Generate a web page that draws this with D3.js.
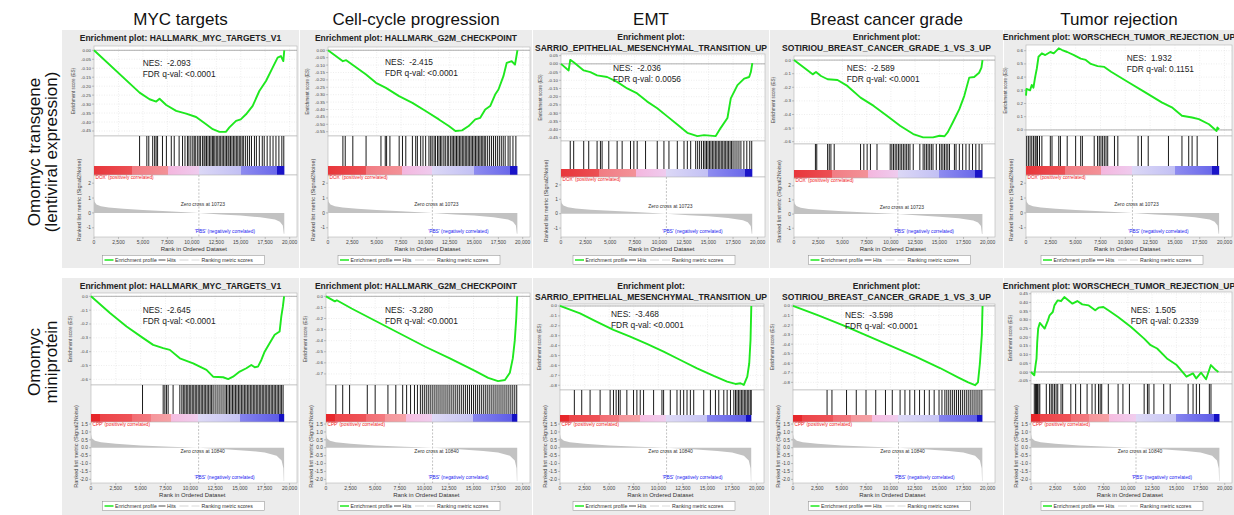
<!DOCTYPE html>
<html>
<head>
<meta charset="utf-8">
<script src="https://cdn.jsdelivr.net/npm/d3@7/dist/d3.min.js"></script>
<style>
html,body{margin:0;padding:0;background:#fff;}
svg{display:block;}
text{font-family:"Liberation Sans",Arial,Helvetica,sans-serif;white-space:pre;}
</style>
</head>
<body>
<svg id="chart" width="1234" height="515"></svg>
<script>
// ===================== DATA =====================
const columnTitles = ["MYC targets","Cell-cycle progression","EMT","Breast cancer grade","Tumor rejection"];
const rowTitles = [["Omomyc transgene","(lentiviral expression)"],["Omomyc","miniprotein"]];
const geneSets = ["HALLMARK_MYC_TARGETS_V1","HALLMARK_G2M_CHECKPOINT","SARRIO_EPITHELIAL_MESENCHYMAL_TRANSITION_UP","SOTIRIOU_BREAST_CANCER_GRADE_1_VS_3_UP","WORSCHECH_TUMOR_REJECTION_UP"];
const nesTop = ["-2.093","-2.415","-2.036","-2.589","1.932"];
const fdrTop = ["<0.0001","<0.0001","0.0056","<0.0001","0.1151"];
const nesBottom = ["-2.645","-3.280","-3.468","-3.598","1.505"];
const fdrBottom = ["<0.0001","<0.0001","<0.0001","<0.0001","0.2339"];
const phenoPosTop = "DOX", phenoPosBottom = "CPP", phenoNeg = "PBS";
const zeroCrossTop = 10723, zeroCrossBottom = 10840;
const rankTicks = [0,2500,5000,7500,10000,12500,15000,17500,20000];
const metricTicksTop = [2,1,0,-1];
const metricTicksBottom = [1.5,1.0,0.5,0.0,-0.5,-1.0,-1.5,-2.0];

const esTicksMycTop = [0,-0.05,-0.10,-0.15,-0.20,-0.25,-0.30,-0.35,-0.40,-0.45];
const esTicksG2mTop = [0,-0.05,-0.10,-0.15,-0.20,-0.25,-0.30,-0.35,-0.40,-0.45,-0.50,-0.55];
const esTicksEmtTop = [0.05,0,-0.05,-0.10,-0.15,-0.20,-0.25,-0.30,-0.35,-0.40,-0.45];
const esTicksGradeTop = [0,-0.1,-0.2,-0.3,-0.4,-0.5,-0.6];
const esTicksRejTop = [0.6,0.5,0.4,0.3,0.2,0.1,0];
const esTicksMycBottom = [0,-0.1,-0.2,-0.3,-0.4,-0.5,-0.6];
const esTicksG2mBottom = [0,-0.1,-0.2,-0.3,-0.4,-0.5,-0.6,-0.7];
const esTicksEmtBottom = [0,-0.1,-0.2,-0.3,-0.4,-0.5,-0.6,-0.7,-0.8];
const esTicksGradeBottom = [0,-0.1,-0.2,-0.3,-0.4,-0.5,-0.6,-0.7,-0.8];
const esTicksRejBottom = [0.45,0.40,0.35,0.30,0.25,0.20,0.15,0.10,0.05,0,-0.05];

// running enrichment score: [rank, ES]
const esMycTop = [[0,0],[4660,-0.236],[5680,-0.273],[6360,-0.286],[6700,-0.27],[7380,-0.305],[8400,-0.338],[9420,-0.353],[10440,-0.372],[11460,-0.413],[12140,-0.44],[12820,-0.455],[13500,-0.454],[13840,-0.43],[14520,-0.394],[15000,-0.385],[15540,-0.357],[16220,-0.31],[16900,-0.227],[17580,-0.171],[18260,-0.097],[18770,-0.041],[19110,-0.032],[19350,-0.06],[19450,0]];
const esG2mTop = [[0,0],[1530,-0.074],[1870,-0.067],[2550,-0.10],[3910,-0.164],[4930,-0.22],[5950,-0.254],[7300,-0.31],[8670,-0.355],[10030,-0.41],[11390,-0.467],[12410,-0.512],[13090,-0.545],[13770,-0.541],[14450,-0.512],[15130,-0.467],[15640,-0.456],[16150,-0.40],[16660,-0.377],[17170,-0.299],[17510,-0.265],[18020,-0.175],[18360,-0.085],[18870,-0.074],[19210,-0.097],[19460,0]];
const esEmtTop = [[0,0],[780,-0.04],[940,0.024],[1290,0.01],[2310,-0.04],[2990,-0.05],[3670,-0.07],[4690,-0.08],[5710,-0.11],[6730,-0.15],[7750,-0.18],[8770,-0.23],[9790,-0.27],[10810,-0.32],[11830,-0.37],[12850,-0.42],[13870,-0.44],[14550,-0.434],[15740,-0.44],[16250,-0.39],[16930,-0.33],[17270,-0.21],[17950,-0.13],[18630,-0.09],[19140,-0.08],[19310,-0.05],[19460,0.004]];
const esGradeTop = [[0,0],[1930,-0.105],[2270,-0.088],[2790,-0.117],[3470,-0.141],[4490,-0.146],[5510,-0.19],[6870,-0.276],[8230,-0.337],[9590,-0.41],[10950,-0.483],[12310,-0.544],[13330,-0.568],[14350,-0.568],[15030,-0.556],[15540,-0.56],[15880,-0.53],[16390,-0.459],[17070,-0.361],[17580,-0.263],[18090,-0.129],[18600,-0.124],[19110,-0.093],[19350,-0.056],[19460,0]];
const esRejTop = [[0,0.26],[50,0.31],[410,0.30],[580,0.34],[750,0.32],[920,0.40],[1090,0.465],[1260,0.554],[1600,0.58],[1940,0.567],[2450,0.59],[2790,0.58],[3300,0.618],[3640,0.605],[4150,0.59],[4830,0.567],[5510,0.54],[6020,0.53],[6530,0.50],[7210,0.483],[7890,0.477],[8570,0.44],[10270,0.363],[11970,0.286],[13670,0.209],[14690,0.171],[15710,0.107],[16730,0.094],[17410,0.082],[18430,0.043],[19200,-0.008],[19280,0.018],[19450,0.005]];
const esMycBottom = [[0,0],[1910,-0.121],[3580,-0.218],[5260,-0.302],[6260,-0.351],[7270,-0.375],[7940,-0.387],[8950,-0.448],[10290,-0.484],[11630,-0.532],[12300,-0.581],[13310,-0.585],[13820,-0.598],[14310,-0.581],[14980,-0.544],[15650,-0.52],[16150,-0.496],[16490,-0.513],[16820,-0.508],[17160,-0.46],[17490,-0.40],[17990,-0.339],[18500,-0.278],[19000,-0.254],[19170,-0.145],[19330,-0.073],[19450,0]];
const esG2mBottom = [[0,0],[900,-0.045],[1100,-0.035],[2600,-0.11],[5100,-0.225],[7600,-0.34],[10100,-0.455],[12600,-0.56],[15100,-0.67],[16500,-0.735],[17500,-0.765],[18200,-0.755],[18700,-0.69],[19000,-0.56],[19200,-0.4],[19350,-0.2],[19450,0]];
const esEmtBottom = [[0,0],[2040,-0.074],[3710,-0.158],[5440,-0.242],[7140,-0.309],[8840,-0.383],[10540,-0.46],[12240,-0.545],[13940,-0.629],[15640,-0.706],[17000,-0.763],[17850,-0.787],[18360,-0.78],[18700,-0.797],[19050,-0.713],[19250,-0.578],[19380,-0.343],[19460,0]];
const esGradeBottom = [[0,0],[2600,-0.1],[5100,-0.2],[7600,-0.31],[10100,-0.42],[12600,-0.53],[15100,-0.65],[17000,-0.75],[18000,-0.8],[18700,-0.83],[19000,-0.8],[19200,-0.6],[19400,-0.3],[19470,0]];
const esRejBottom = [[0,0],[340,-0.019],[470,0.039],[570,0.077],[640,0.17],[740,0.25],[910,0.282],[1410,0.25],[1750,0.297],[1920,0.326],[2250,0.345],[2420,0.383],[2760,0.412],[3100,0.408],[3440,0.431],[3940,0.408],[4280,0.393],[4780,0.408],[5290,0.389],[5960,0.383],[6630,0.355],[6970,0.37],[7470,0.374],[7980,0.355],[8990,0.316],[10330,0.259],[11680,0.192],[12350,0.154],[13020,0.135],[14030,0.078],[15040,0.04],[16050,-0.027],[16720,-0.008],[17060,-0.037],[17560,-0.004],[18070,-0.042],[18570,0.04],[19080,0.011],[19350,0]];

// gene-set hit ranks
const hitsMycTop = [4660,5400,5600,6000,6200,6350,6500,7000,7400,7900,8200,8700,9050,9300,9550,9700,9900,10100,10250,10400,10600,10750,10900,11100,11250,11350,11500,11650,11800,11950,12100,12200,12350,12500,12650,12800,12950,13100,13250,13400,13550,13700,13800,13950,14100,14250,14400,14550,14700,14850,15000,15150,15300,15500,15700,15900,16100,16400,16600,16900,17200,17400,17700,18000,18300,18600,18900,19200,19400];
const hitsG2mTop = [1530,1770,2550,3910,5440,5880,6020,6360,7310,7650,7990,8670,9010,9180,9520,9760,10030,10370,10550,10700,10900,11050,11250,11400,11550,11700,11900,12050,12250,12400,12600,12750,12900,13050,13200,13350,13500,13650,13800,13950,14100,14250,14400,14550,14700,14850,15000,15150,15300,15450,15600,15750,15900,16050,16200,16400,16600,16800,17000,17200,17400,17600,17800,18000,18200,18500,18700,19000,19300];
const hitsEmtTop = [940,1290,2310,2820,3670,4010,4180,4860,5710,6220,7070,7410,7750,8600,9790,10470,10980,11830,12510,12850,13190,13700,13900,14100,14300,14500,14650,14800,14950,15100,15250,15400,15550,15700,15850,16000,16150,16300,16450,16600,16750,16900,17050,17200,17350,17500,17700,17900,18100,18300,18600,18900,19200,19400];
const hitsGradeTop = [2210,2350,3470,3640,3810,4150,6870,7210,7550,7890,8570,9930,10100,10270,10440,10610,10780,10950,11120,11290,11460,11630,11800,11970,12310,12990,13330,13500,13670,13840,14010,14180,14350,14690,15030,15200,15370,15540,15710,15880,16050,16560,16730,17070,17410,17750,18090,18430,18770,19110,19400];
const hitsRejTop = [70,240,410,580,750,920,1020,1160,1360,1600,2450,2620,3300,3470,4150,5000,5510,5680,6870,7210,7380,7550,7720,7890,8060,8230,8910,9250,11290,11630,12310,14350,15710,16390,16730,17240,19300];
const hitsMycBottom = [5190,7270,7440,7600,7770,8270,8950,9150,9300,9450,9600,9750,9900,10050,10200,10350,10500,10650,10800,10950,11100,11250,11400,11550,11700,11850,12000,12150,12300,12500,12700,12900,13100,13300,13500,13650,13800,13950,14100,14250,14400,14550,14700,14850,15000,15150,15300,15450,15600,15750,15900,16050,16200,16350,16500,16650,16800,16950,17100,17250,17400,17550,17700,17850,18000,18150,18300,18450,18600,18750,18900,19050,19200,19350];
const hitsG2mBottom = [1000,1700,2400,4200,5000,6300,7100,7800,8200,8600,9000,9300,9600,9800,10000,10200,10400,10600,10800,11000,11200,11400,11600,11800,12000,12200,12400,12600,12800,13000,13200,13400,13600,13800,14000,14200,14400,14600,14800,15000,15200,15400,15600,15800,16000,16200,16400,16600,16800,17000,17200,17400,17600,17800,18000,18200,18400,18600,18800,19000,19200,19400];
const hitsEmtBottom = [1460,2210,3060,4080,5100,5440,5710,5950,6120,6800,7480,7820,8160,8500,9520,10370,10540,11220,11900,12240,12580,12920,13260,13600,14620,15300,15810,16150,16660,17000,17340,17680,17850,18000,18150,18300,18450,18600,18750,18900,19050,19200,19350,19450];
const hitsGradeBottom = [3500,4000,5500,6500,7500,8500,9500,10200,11000,11500,12000,12500,13000,13500,14000,14500,15000,15300,15600,15800,16000,16200,16400,16600,16800,17000,17200,17400,17600,17800,18000,18200,18400,18600,18800,19000,19200,19400];
const hitsRejBottom = [340,470,570,670,810,910,1580,1920,2090,2250,2420,2590,2760,3100,3270,4110,4610,5120,5790,6300,6630,6970,7140,7300,7980,8990,9490,10160,11680,12020,12180,12690,13700,14370,16220,16730,17070,17400,18410,18580];

// ranked list metric (Signal2Noise): [rank, value]
const metricTop = [[0,0.95],[60,0.75],[250,0.57],[700,0.45],[1500,0.36],[3000,0.28],[5000,0.2],[7500,0.12],[10723,0],[13000,-0.1],[15000,-0.18],[17000,-0.3],[18500,-0.45],[19000,-0.6],[19300,-0.85],[19400,-1.4],[19450,-1.4]];
const metricBottom = [[0,0.85],[80,0.6],[400,0.45],[1000,0.35],[2500,0.25],[5000,0.15],[8000,0.07],[10840,0],[13500,-0.1],[16000,-0.2],[17500,-0.3],[18700,-0.5],[19200,-0.8],[19380,-1.3],[19420,-2.1],[19450,-2.1]];

// colour bar segments: [rank, colour]
const colorbarTop = [[0,"#e8363a"],[3900,"#ec5055"],[3900,"#f17c83"],[7600,"#f39298"],[7600,"#f4b6de"],[10700,"#efcbee"],[10700,"#dcd8f6"],[15000,"#c2c0f4"],[15000,"#8e8cf0"],[18700,"#6a68ea"],[18700,"#1a14c8"],[19460,"#1a14c8"]];
const colorbarBottom = [[0,"#e6262a"],[900,"#e8282c"],[900,"#ec4448"],[4100,"#ef5358"],[4100,"#f26c72"],[6000,"#f37a80"],[6000,"#f5969b"],[8100,"#f6a2a6"],[8100,"#f6bde0"],[10800,"#f0cdee"],[10800,"#dedaf6"],[15000,"#c6c4f4"],[15000,"#8684ee"],[18900,"#5e5ce8"],[18900,"#1410c4"],[19460,"#1410c4"]];

// ===================== DRAWING =====================
const RANK_MAX = 20750;
const GREEN = "#1ee81e";
const fmtLoc = d3.formatLocale({decimal:".",thousands:",",grouping:[3],currency:["",""],minus:"-"});
const fmtRank = fmtLoc.format(",");
const svg = d3.select("#chart");

const rows = [
  { gy:30, gh:238, nes:nesTop, fdr:fdrTop, pos:phenoPosTop, zc:zeroCrossTop, metric:metricTop,
    mTicks:metricTicksTop, mFmt:fmtLoc.format("d"), mDomain:[2.55,-1.62], cbar:colorbarTop,
    es:[esMycTop,esG2mTop,esEmtTop,esGradeTop,esRejTop],
    hits:[hitsMycTop,hitsG2mTop,hitsEmtTop,hitsGradeTop,hitsRejTop],
    ticks:[esTicksMycTop,esTicksG2mTop,esTicksEmtTop,esTicksGradeTop,esTicksRejTop],
    panels:[
      {gx:62,gw:237,x0:94,x1:297,title:[41],es:[46,136],dom:[0.024,-0.478],hits:[136,166],cb:[166,175],rk:[175,237],nes:[142.7,65.7],dec:2},
      {gx:300,gw:232,x0:328,x1:530,title:[41],es:[47,136],dom:[0.022,-0.579],hits:[136,166],cb:[166,175],rk:[175,237],nes:[385,65.3],dec:2},
      {gx:533,gw:236,x0:561,x1:765,title:[40,51],es:[54,141],dom:[0.06,-0.47],hits:[141,169],cb:[169,177],rk:[177,237],nes:[613,70.7],dec:2},
      {gx:770,gw:233,x0:794,x1:995,title:[40,51],es:[56,144],dom:[0.03,-0.617],hits:[144,170],cb:[170,178],rk:[178,237],nes:[846.7,70.7],dec:1},
      {gx:1004,gw:230,x0:1026,x1:1232,title:[40],es:[45,136],dom:[0.643,-0.046],hits:[136,166],cb:[166,175],rk:[175,237],nes:[1126.7,60.7],dec:1}
    ]},
  { gy:278, gh:237, nes:nesBottom, fdr:fdrBottom, pos:phenoPosBottom, zc:zeroCrossBottom, metric:metricBottom,
    mTicks:metricTicksBottom, mFmt:fmtLoc.format(".1f"), mDomain:[1.63,-2.23], cbar:colorbarBottom,
    es:[esMycBottom,esG2mBottom,esEmtBottom,esGradeBottom,esRejBottom],
    hits:[hitsMycBottom,hitsG2mBottom,hitsEmtBottom,hitsGradeBottom,hitsRejBottom],
    ticks:[esTicksMycBottom,esTicksG2mBottom,esTicksEmtBottom,esTicksGradeBottom,esTicksRejBottom],
    panels:[
      {gx:62,gw:237,x0:91,x1:297,title:[289],es:[293,385],dom:[0.024,-0.641],hits:[385,414],cb:[414,422],rk:[422,483],nes:[142.7,312.7],dec:1},
      {gx:300,gw:232,x0:326,x1:530,title:[289],es:[293,385],dom:[0.03,-0.80],hits:[385,414],cb:[414,422],rk:[422,483],nes:[385,312.7],dec:1},
      {gx:533,gw:236,x0:560,x1:764,title:[289,300],es:[304,390],dom:[0.02,-0.848],hits:[390,415],cb:[415,422],rk:[422,483],nes:[611,316.7],dec:1},
      {gx:770,gw:233,x0:793,x1:995,title:[289,300],es:[304,390],dom:[0.02,-0.88],hits:[390,415],cb:[415,422],rk:[422,483],nes:[845,318],dec:1},
      {gx:1004,gw:230,x0:1031,x1:1232,title:[289],es:[292,384],dom:[0.46,-0.069],hits:[384,414],cb:[414,422],rk:[422,483],nes:[1130.7,313.3],dec:2}
    ]}
];

// column headers
const headerX = [180.5,416,651,886.5,1119];
columnTitles.forEach((t,i)=>{
  svg.append("text").attr("x",headerX[i]).attr("y",25).attr("text-anchor","middle")
    .attr("font-size",17).attr("fill","#111").text(t);
});
// row labels
const rowLabelY = [152, 362];
rowTitles.forEach((lines,r)=>{
  lines.forEach((t,i)=>{
    svg.append("text").attr("transform",`translate(${[40,57][i]},${rowLabelY[r]}) rotate(-90)`)
      .attr("text-anchor","middle").attr("font-size",17).attr("fill","#111").text(t);
  });
});

function drawPanel(ri, ci){
  const R = rows[ri], L = R.panels[ci];
  const g = svg.append("g");
  g.append("rect").attr("x",L.gx).attr("y",R.gy).attr("width",L.gw).attr("height",R.gh).attr("fill","#ececec");
  const cx = L.gx + L.gw/2;
  const tl = L.title.length===2 ? ["Enrichment plot:", geneSets[ci]] : ["Enrichment plot: "+geneSets[ci]];
  tl.forEach((t,i)=> g.append("text").attr("x",cx).attr("y",L.title[i]).attr("text-anchor","middle")
     .attr("font-size",8.5).attr("font-weight","bold").attr("fill","#222").text(t));

  const x = d3.scaleLinear().domain([0,RANK_MAX]).range([L.x0,L.x1]);
  const yE = d3.scaleLinear().domain(L.dom).range(L.es);
  const esTicks = R.ticks[ci];
  const fE = fmtLoc.format("."+L.dec+"f");

  g.append("rect").attr("x",L.x0).attr("y",L.es[0]).attr("width",L.x1-L.x0).attr("height",L.es[1]-L.es[0])
    .attr("fill","#fff").attr("stroke","#b4b4b4").attr("stroke-width",0.6);
  rankTicks.slice(1).forEach(t=> g.append("line").attr("x1",x(t)).attr("x2",x(t)).attr("y1",L.es[0]).attr("y2",L.es[1])
    .attr("stroke","#dcdcdc").attr("stroke-width",0.5).attr("stroke-dasharray","1,1.5"));
  esTicks.forEach(t=> g.append("line").attr("x1",L.x0).attr("x2",L.x1).attr("y1",yE(t)).attr("y2",yE(t))
    .attr("stroke","#dcdcdc").attr("stroke-width",0.5).attr("stroke-dasharray","1,1.5"));
  g.append("line").attr("x1",L.x0).attr("x2",L.x1).attr("y1",yE(0)).attr("y2",yE(0)).attr("stroke","#9a9a9a").attr("stroke-width",0.8);
  esTicks.forEach(t=>{
    g.append("line").attr("x1",L.x0-2).attr("x2",L.x0).attr("y1",yE(t)).attr("y2",yE(t)).attr("stroke","#888").attr("stroke-width",0.5);
    g.append("text").attr("x",L.x0-3).attr("y",yE(t)+1.5).attr("text-anchor","end").attr("font-size",4.4).attr("fill","#444").text(fE(t));
  });
  g.append("text").attr("transform",`translate(${L.x0-19.5},${(L.es[0]+L.es[1])/2}) rotate(-90)`)
    .attr("text-anchor","middle").attr("font-size",4.6).attr("fill","#444").text("Enrichment score (ES)");
  g.append("path").datum(R.es[ci]).attr("fill","none").attr("stroke",GREEN).attr("stroke-width",1.9)
    .attr("stroke-linejoin","round").attr("d",d3.line().x(d=>x(d[0])).y(d=>yE(d[1])));
  g.append("text").attr("x",L.nes[0]).attr("y",L.nes[1]).attr("font-size",8.4).attr("fill","#222").text("NES:  "+R.nes[ci]);
  g.append("text").attr("x",L.nes[0]).attr("y",L.nes[1]+11).attr("font-size",8.4).attr("fill","#222").text("FDR q-val: "+R.fdr[ci]);

  g.append("rect").attr("x",L.x0).attr("y",L.hits[0]).attr("width",L.x1-L.x0).attr("height",L.cb[1]-L.hits[0])
    .attr("fill","#fff").attr("stroke","#b4b4b4").attr("stroke-width",0.6);
  R.hits[ci].forEach(h=> g.append("line").attr("x1",x(h)).attr("x2",x(h)).attr("y1",L.hits[0]).attr("y2",L.hits[1])
    .attr("stroke","#000").attr("stroke-width",0.9));

  const gid = `cb${ri}${ci}`;
  const grad = svg.append("defs").append("linearGradient").attr("id",gid).attr("gradientUnits","userSpaceOnUse")
    .attr("x1",x(0)).attr("x2",x(RANK_MAX)).attr("y1",0).attr("y2",0);
  R.cbar.forEach(s=> grad.append("stop").attr("offset",s[0]/RANK_MAX).attr("stop-color",s[1]));
  const last = R.cbar[R.cbar.length-1][0];
  g.append("rect").attr("x",x(0)).attr("y",L.cb[0]).attr("width",x(last)-x(0)).attr("height",L.cb[1]-L.cb[0]).attr("fill",`url(#${gid})`);

  const yM = d3.scaleLinear().domain(R.mDomain).range(L.rk);
  g.append("rect").attr("x",L.x0).attr("y",L.rk[0]).attr("width",L.x1-L.x0).attr("height",L.rk[1]-L.rk[0])
    .attr("fill","#fff").attr("stroke","#b4b4b4").attr("stroke-width",0.6);
  g.append("path").datum(R.metric).attr("fill","#c2c2c2").attr("stroke","none")
    .attr("d",d3.area().x(d=>x(d[0])).y0(yM(0)).y1(d=>yM(d[1])));
  g.append("line").attr("x1",x(R.zc)).attr("x2",x(R.zc)).attr("y1",L.rk[0]).attr("y2",L.rk[1])
    .attr("stroke","#9a9a9a").attr("stroke-width",0.6).attr("stroke-dasharray","2,1.5");
  R.mTicks.forEach(t=>{
    g.append("line").attr("x1",L.x0-2).attr("x2",L.x0).attr("y1",yM(t)).attr("y2",yM(t)).attr("stroke","#888").attr("stroke-width",0.5);
    g.append("text").attr("x",L.x0-3).attr("y",yM(t)+1.7).attr("text-anchor","end").attr("font-size",4.8).attr("fill","#444").text(R.mFmt(t));
  });
  g.append("text").attr("transform",`translate(${L.x0-13.5},${(L.rk[0]+L.rk[1])/2-6}) rotate(-90)`)
    .attr("text-anchor","middle").attr("font-size",5.6).attr("fill","#444").text("Ranked list metric (Signal2Noise)");
  g.append("text").attr("x",L.x0+0.5).attr("y",L.rk[0]+4.3).attr("font-size",4.8).attr("fill","#f02020")
    .text(`'${R.pos}' (positively correlated)`);
  g.append("text").attr("x",x(R.zc)+4).attr("y",L.rk[0]+31).attr("text-anchor","middle").attr("font-size",5).attr("fill","#333")
    .text("Zero cross at "+R.zc);
  g.append("text").attr("x",x(R.zc)+26).attr("y",L.rk[1]-4).attr("text-anchor","middle").attr("font-size",4.8).attr("fill","#2020f0")
    .text(`'${phenoNeg}' (negatively correlated)`);
  rankTicks.forEach(t=>{
    g.append("line").attr("x1",x(t)).attr("x2",x(t)).attr("y1",L.rk[1]).attr("y2",L.rk[1]+2).attr("stroke","#888").attr("stroke-width",0.5);
    g.append("text").attr("x",x(t)).attr("y",L.rk[1]+7.3).attr("text-anchor","middle").attr("font-size",5).attr("fill","#444").text(fmtRank(t));
  });
  g.append("text").attr("x",x(10000)+2).attr("y",L.rk[1]+14).attr("text-anchor","middle").attr("font-size",6).attr("fill","#333")
    .text("Rank in Ordered Dataset");

  const lw = 162, lx = L.gx + L.gw/2 + 3 - lw/2, ly = L.rk[1]+18.5;
  g.append("rect").attr("x",lx).attr("y",ly).attr("width",lw).attr("height",9).attr("fill","#fff").attr("stroke","#8a8a8a").attr("stroke-width",0.5);
  const ty = ly + 6.6;
  g.append("line").attr("x1",lx+2).attr("x2",lx+11).attr("y1",ly+4.5).attr("y2",ly+4.5).attr("stroke",GREEN).attr("stroke-width",1.5);
  g.append("text").attr("x",lx+12.5).attr("y",ty).attr("font-size",5.2).attr("fill","#333").text("Enrichment profile");
  g.append("line").attr("x1",lx+56).attr("x2",lx+63).attr("y1",ly+4.5).attr("y2",ly+4.5).attr("stroke","#222").attr("stroke-width",0.8);
  g.append("text").attr("x",lx+64.5).attr("y",ty).attr("font-size",5.2).attr("fill","#333").text("Hits");
  g.append("line").attr("x1",lx+77).attr("x2",lx+86).attr("y1",ly+4.5).attr("y2",ly+4.5).attr("stroke","#e4e4e4").attr("stroke-width",1.6);
  g.append("line").attr("x1",lx+89).attr("x2",lx+97).attr("y1",ly+4.5).attr("y2",ly+4.5).attr("stroke","#cfcfcf").attr("stroke-width",0.8);
  g.append("text").attr("x",lx+99).attr("y",ty).attr("font-size",5.2).attr("fill","#333").text("Ranking metric scores");
}

rows.forEach((R,ri)=> R.panels.forEach((L,ci)=> drawPanel(ri,ci)));
</script>
</body>
</html>
